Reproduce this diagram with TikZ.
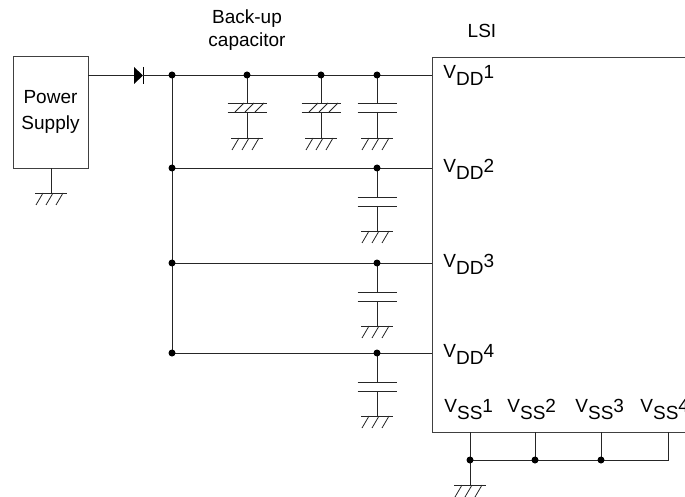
\documentclass[tikz,border=0pt]{standalone}
\usepackage{fontspec}
\setmainfont{Liberation Sans}
\usetikzlibrary{calc}
\begin{document}
\begin{tikzpicture}[x=1pt,y=-1pt,line width=0.9pt,
  wire/.style={draw=black!85},
  dot/.style={circle,fill=black,inner sep=0pt,minimum size=7pt},
  lbl/.style={font=\fontsize{19}{22}\selectfont,inner sep=0pt,anchor=base west},
  gnd/.pic={\draw[black!85] (-16,0)--(16,0);
    \foreach \a in {-8,2,12} \draw[black!85,line width=0.8pt] (\a,0)--(\a-7,12);},
  cap/.pic={\draw[black!85] (-19.5,0)--(19.5,0) (-19.5,9)--(19.5,9);},
  hcap/.pic={\draw[black!85] (-19.5,0)--(19.5,0) (-19.5,9)--(19.5,9);
    \foreach \a in {-12,-2,8} \draw[black!85,line width=0.8pt] (\a,9)--(\a+9,0);}]
\useasboundingbox (0,0) rectangle (685,497);
\fill[white] (0,0) rectangle (685,497);
% power supply
\node[draw=black!75,minimum width=75pt,minimum height=112pt,inner sep=0pt,
  align=center,font=\fontsize{19}{26}\selectfont] (ps) at (50.5,112) {Power\\Supply};
\coordinate (psout) at (88,75);
\coordinate (psg) at (51,193);
\draw[wire] (ps.south -| psg) -- (psg);
\pic at (psg) {gnd};
% diode
\coordinate (da) at (134,75);
\coordinate (dk) at (143,75);
\fill (134,67) -- (134,84) -- (143,75.5) -- cycle;
\draw (143,67) -- (143,84);
\draw[wire] (psout) -- (da);
% LSI box
\coordinate (vdd1) at (432,75);
\coordinate (vdd2) at (432,168);
\coordinate (vdd3) at (432,263);
\coordinate (vdd4) at (432,353);
\draw[black!75] (690,57) -- (432,57) -- (432,432) -- (690,432);
\node[font=\fontsize{19}{22}\selectfont] (lsi) at (482,31) {LSI};
\node[font=\fontsize{19}{23}\selectfont,align=center] (bu) at (247,30) {Back-up\\capacitor};
% junctions
\coordinate (j1) at (172,75);
\coordinate (j2) at (172,168);
\coordinate (j3) at (172,263);
\coordinate (j4) at (172,353);
\coordinate (c1) at (247,75);
\coordinate (c2) at (321,75);
\coordinate (c3) at (377,75);
\coordinate (c4) at (377,168);
\coordinate (c5) at (377,263);
\coordinate (c6) at (377,353);
\draw[wire] (dk) -- (vdd1);
\draw[wire] (j1) -- (j4);
\draw[wire] (j2) -- (vdd2);
\draw[wire] (j3) -- (vdd3);
\draw[wire] (j4) -- (vdd4);
% top capacitors
\foreach \n/\k in {c1/hcap,c2/hcap,c3/cap}{
  \draw[wire] (\n) -- ++(0,28);
  \pic at ($(\n)+(0,28)$) {\k};
  \draw[wire] ($(\n)+(0,37)$) -- ++(0,26);
  \pic at ($(\n)+(0,63)$) {gnd};
}
\foreach \n in {c4,c5,c6}{
  \draw[wire] (\n) -- ++(0,29);
  \pic at ($(\n)+(0,29)$) {cap};
  \draw[wire] ($(\n)+(0,38)$) -- ++(0,25);
  \pic at ($(\n)+(0,63)$) {gnd};
}
\foreach \n in {j1,j2,j3,j4,c1,c2,c3,c4,c5,c6} \node[dot] at (\n) {};
% VDD labels
\node[lbl] (l1) at (443,79) {V\raisebox{-7pt}{DD}1};
\node[lbl] (l2) at (443,173) {V\raisebox{-7pt}{DD}2};
\node[lbl] (l3) at (443,267) {V\raisebox{-7pt}{DD}3};
\node[lbl] (l4) at (443,357) {V\raisebox{-7pt}{DD}4};
% VSS
\node[lbl] (s1) at (444,412) {V\raisebox{-7pt}{SS}1};
\node[lbl] (s2) at (507,412) {V\raisebox{-7pt}{SS}2};
\node[lbl] (s3) at (575,412) {V\raisebox{-7pt}{SS}3};
\node[lbl] (s4) at (640,412) {V\raisebox{-7pt}{SS}4};
\coordinate (p1) at (470,432);
\coordinate (p2) at (535,432);
\coordinate (p3) at (601,432);
\coordinate (p4) at (668,432);
\coordinate (b1) at (470,460);
\coordinate (b2) at (535,460);
\coordinate (b3) at (601,460);
\coordinate (b4) at (668,460);
\coordinate (sg) at (470,485);
\draw[wire] (p1) -- (sg);
\draw[wire] (p2) -- (b2);
\draw[wire] (p3) -- (b3);
\draw[wire] (p4) -- (b4) -- (b1);
\pic at (sg) {gnd};
\foreach \n in {b1,b2,b3} \node[dot] at (\n) {};
\end{tikzpicture}
\end{document}
